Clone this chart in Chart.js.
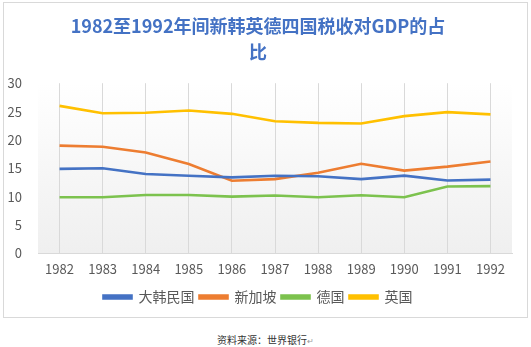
<!DOCTYPE html>
<html>
<head>
<meta charset="utf-8">
<script src="https://cdn.jsdelivr.net/npm/chart.js@4"></script>
<style>
  body { margin: 0; background: #fff; width: 531px; height: 347px; position: relative; overflow: hidden; }
  #frame { position: absolute; left: 3px; top: 2px; width: 525px; height: 316px; box-sizing: border-box; border: 1px solid #d9d9d9; }
  #source { position: absolute; left: 0; width: 531px; top: 332px; text-align: center; font: 10px 'Noto Sans CJK SC', sans-serif; color: #333; }
  #source span { color: #999; font-size: 8px; }
</style>
</head>
<body>
<div id="frame"><canvas id="taxChart"></canvas></div>
<div id="source">资料来源：世界银行<span>↵</span></div>
<script>
const years = ['1982', '1983', '1984', '1985', '1986', '1987', '1988', '1989', '1990', '1991', '1992'];
const korea = [14.9, 15.0, 14.0, 13.7, 13.4, 13.7, 13.6, 13.1, 13.7, 12.85, 13.0];
const singapore = [19.0, 18.8, 17.8, 15.75, 12.8, 13.1, 14.2, 15.8, 14.6, 15.3, 16.2];
const germany = [9.9, 9.9, 10.3, 10.3, 10.0, 10.2, 9.9, 10.25, 9.9, 11.8, 11.85];
const uk = [26.0, 24.7, 24.8, 25.2, 24.6, 23.3, 23.0, 22.9, 24.2, 24.9, 24.5];
const yTicks = [0, 5, 10, 15, 20, 25, 30];

const font = "'Noto Sans CJK SC', 'Noto Sans', sans-serif";

// plot area background: white fading to light grey
const plotBg = {
    id: 'plotBg',
    beforeDraw(chart) {
        const { ctx, chartArea: a } = chart;
        const g = ctx.createLinearGradient(0, a.top, 0, a.bottom);
        g.addColorStop(0, '#ffffff');
        g.addColorStop(1, '#efefef');
        ctx.save();
        ctx.fillStyle = g;
        ctx.fillRect(a.left, a.top, a.right - a.left, a.bottom - a.top);
        ctx.restore();
    }
};

function series(label, data, color) {
    return {
        label: label,
        data: data,
        borderColor: color,
        backgroundColor: color,
        borderWidth: 2.6,
        pointRadius: 0,
        tension: 0
    };
}

new Chart(document.getElementById('taxChart'), {
    type: 'line',
    data: {
        labels: years,
        datasets: [
            series('大韩民国', korea, '#4472c4'),
            series('新加坡', singapore, '#ed7d31'),
            series('德国', germany, '#7cc24e'),
            series('英国', uk, '#ffc000')
        ]
    },
    options: {
        responsive: true,
        maintainAspectRatio: false,
        animation: false,
        layout: { padding: { left: 0, right: 15, bottom: 3 } },
        plugins: {
            title: {
                display: true,
                text: ['1982至1992年间新韩英德四国税收对GDP的占', '比'],
                color: '#4472c4',
                font: { family: font, size: 18, weight: 'bold', lineHeight: 1.45 },
                padding: { top: 10, bottom: 18 }
            },
            legend: {
                position: 'bottom',
                labels: {
                    color: '#595959',
                    font: { family: font, size: 14 },
                    boxWidth: 28,
                    boxHeight: 3,
                    padding: 5
                }
            },
            tooltip: { enabled: false }
        },
        scales: {
            x: {
                offset: true,
                grid: { display: true, offset: false, color: '#d9d9d9', drawTicks: false },
                border: { color: '#d9d9d9' },
                ticks: { color: '#595959', font: { family: font, size: 13 }, padding: 8 }
            },
            y: {
                min: 0,
                max: 30,
                afterBuildTicks: scale => { scale.ticks = yTicks.map(v => ({ value: v })); },
                afterFit: scale => { scale.width = 34; },
                grid: { display: false },
                border: { display: false },
                ticks: { color: '#595959', font: { family: font, size: 13 }, padding: 8 }
            }
        }
    },
    plugins: [plotBg]
});
</script>
</body>
</html>
